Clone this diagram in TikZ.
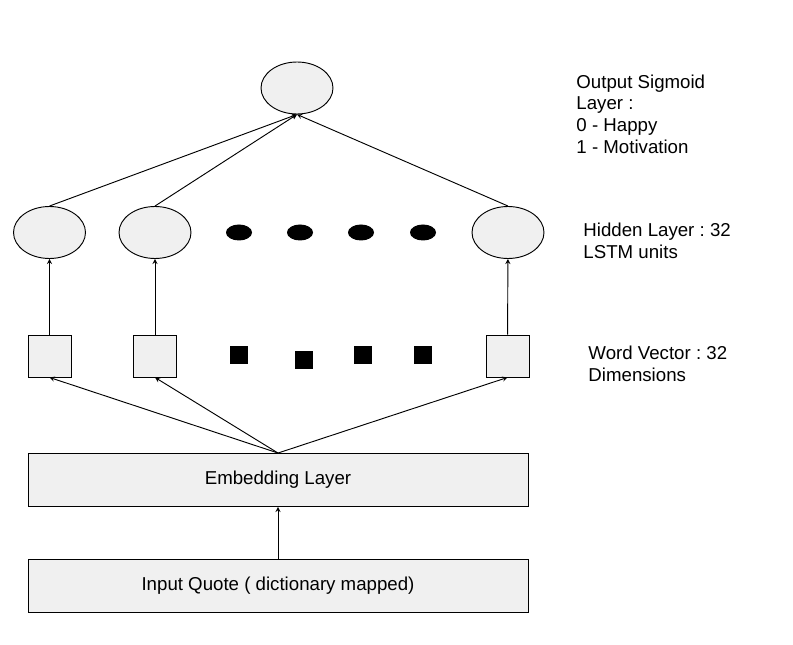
\documentclass[tikz,border=0pt]{standalone}
\usepackage{fontspec}
\setmainfont{Liberation Sans}
\usetikzlibrary{shapes.geometric}
\frenchspacing

\begin{document}
\begin{tikzpicture}[x=0.75pt, y=-0.75pt, >=stealth, line width=0.7pt,
    unit/.style={draw, ellipse, fill=gray!12, minimum width=54pt, minimum height=39pt, inner sep=0pt},
    wvec/.style={draw, fill=gray!12, minimum width=32.25pt, minimum height=31.5pt, inner sep=0pt},
    layer/.style={draw, fill=gray!12, minimum width=375pt, minimum height=39.75pt, text depth=0pt, text height=0.72em, font=\fontsize{14}{16}\selectfont},
    note/.style={anchor=base west, align=left, inner sep=0pt, font=\fontsize{14}{16.3}\selectfont}]
  \useasboundingbox (0,0) rectangle (793,645);
  % output layer
  \node[unit] (out) at (297,88) {};
  % hidden layer
  \node[unit] (h1) at (49.5,232.5) {};
  \node[unit] (h2) at (155,232.5) {};
  \node[unit] (h3) at (508,232.5) {};
  \foreach \x in {239,300,361,423}
    \fill (\x,232.5) ellipse (9.75pt and 6pt);
  % word vectors
  \node[wvec] (w1) at (49.5,356) {};
  \node[wvec] (w2) at (155,356) {};
  \node[wvec] (w3) at (507.5,356) {};
  \foreach \x/\y in {239/355.5, 303.5/360, 363/355.5, 423/355.5}
    \fill (\x-9,\y-9) rectangle (\x+9,\y+9);
  % embedding and input
  \node[layer] (emb) at (278,480) {Embedding Layer};
  \node[layer] (inp) at (278,586) {Input Quote ( dictionary mapped)};
  % connections
  \draw[->] (inp) -- (emb);
  \foreach \w in {w1,w2,w3}
    \draw[->] (emb.north) -- (\w.south);
  \foreach \w/\h in {w1/h1,w2/h2,w3/h3}
    \draw[->] (\w) -- (\h);
  \foreach \h in {h1,h2,h3}
    \draw[->] (\h.north) -- (out.south);
  % notes (anchored at the last line)
  \node[note] (outnote) at (576,153.3) {Output Sigmoid\\Layer :\\0 - Happy\\1 - Motivation};
  \node[note] (hidnote) at (583,258.3) {Hidden Layer : 32\\LSTM units};
  \node[note] (vecnote) at (588,381.3) {Word Vector : 32\\Dimensions};
\end{tikzpicture}
\end{document}
